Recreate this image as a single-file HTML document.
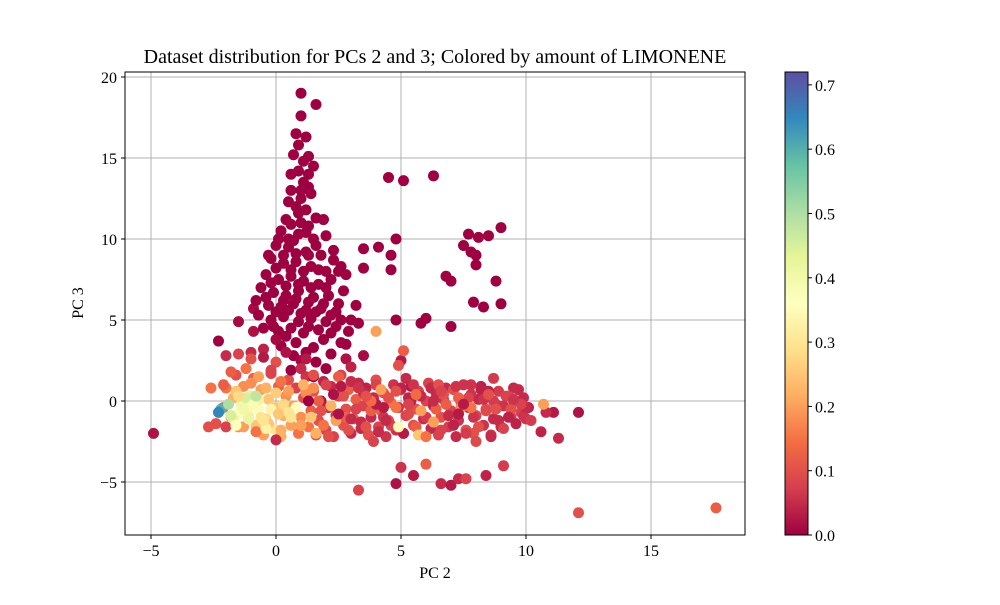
<!DOCTYPE html>
<html><head><meta charset="utf-8"><style>
body{margin:0;background:#fff;width:1000px;height:600px;overflow:hidden}
svg text{font-family:"Liberation Serif",serif;fill:#000}
</style></head><body>
<svg id="chart" width="1000" height="600" xmlns="http://www.w3.org/2000/svg">
<defs><linearGradient id="cmap" x1="0" y1="1" x2="0" y2="0">
<stop offset="0" stop-color="#9e0142"/><stop offset="0.1" stop-color="#d53e4f"/><stop offset="0.2" stop-color="#f46d43"/><stop offset="0.3" stop-color="#fdae61"/><stop offset="0.4" stop-color="#fee08b"/><stop offset="0.5" stop-color="#ffffbf"/><stop offset="0.6" stop-color="#e6f598"/><stop offset="0.7" stop-color="#abdda4"/><stop offset="0.8" stop-color="#66c2a5"/><stop offset="0.9" stop-color="#3288bd"/><stop offset="1" stop-color="#5e4fa2"/>
</linearGradient>
<clipPath id="plotclip"><rect x="125" y="72" width="620" height="463"/></clipPath></defs>
<text x="435" y="63" font-size="20" text-anchor="middle">Dataset distribution for PCs 2 and 3; Colored by amount of LIMONENE</text>
<g id="grid"></g>
<g id="pts" clip-path="url(#plotclip)"></g>
<rect x="125" y="72" width="620" height="463" fill="none" stroke="#000" stroke-width="1"/>
<g id="axes"></g>
<text x="435" y="578" font-size="16" text-anchor="middle">PC 2</text>
<text x="83" y="303" font-size="16" text-anchor="middle" transform="rotate(-90 83 303)">PC 3</text>
<rect x="785" y="72" width="23" height="463" fill="url(#cmap)" stroke="#000" stroke-width="1"/>
<g id="cbar"></g>
</svg>
<script>
const xTicks=[-5,0,5,10,15];
const yTicks=[-5,0,5,10,15,20];
const cTicks=[0.0,0.1,0.2,0.3,0.4,0.5,0.6,0.7];
const spikeX=[0.0,0.5,1.0,1.6,2.2,-0.4,0.3,0.8,1.3,1.9,2.5,-0.2,0.4,0.9,1.4,2.0,0.0,0.6,1.1,1.7,2.3,0.3,0.8,1.3,1.6,0.1,0.7,1.2,0.6,1.3,0.9,0.5,1.0,1.3,0.6,1.1,0.9,-0.1,0.4,1.3,1.9,2.4,-0.9,-0.9,0.2,1.2,0.7,1.6,2.2,2.6,3.3,2.9,-0.5,-1.0,0.6,1.5,2.0];
const spikeY=[5.5,5.6,5.4,5.5,5.3,6.4,6.2,6.3,6.1,6.0,6.0,7.3,7.1,7.2,7.0,7.0,8.2,8.1,8.0,8.1,8.7,9.0,9.1,9.0,9.6,10.0,9.9,10.4,10.9,10.8,11.6,12.3,12.5,13.2,14.0,14.8,15.8,4.6,4.0,4.6,3.8,4.6,5.7,4.3,3.4,3.0,2.8,2.4,2.9,3.6,4.8,4.3,3.2,3.0,1.9,1.5,2.0];
const spikeC=[0,0,0,0,0,0,0,0,0,0,0,0,0,0,0,0,0,0,0,0,0,0,0,0,0,0,0,0,0,0,0,0,0,0,0,0,0,0,0,0,0,0,0.01,0.02,0,0,0,0,0,0,0,0,0.04,0.05,0,0,0];
const bandX=[-1.6,-0.9,-0.2,0.5,1.2,1.9,2.6,3.3,4.0,4.7,5.4,6.1,6.8,7.5,8.2,8.9,9.5,
-2.0,-1.3,-0.6,0.1,0.8,1.5,2.2,2.9,3.6,4.3,5.0,5.7,6.4,7.1,7.8,8.5,9.2,9.9,
-1.7,-1.0,-0.3,0.4,1.1,1.8,2.5,3.2,3.9,4.6,5.3,6.0,6.7,7.4,8.1,8.8,9.5,10.1,
-2.1,-1.4,-0.7,0.0,0.7,1.4,2.1,2.8,3.5,4.2,4.9,5.6,6.3,7.0,7.7,8.4,9.1,9.8,
-1.8,-1.1,-0.4,0.3,1.0,1.7,2.4,3.1,3.8,4.5,5.2,5.9,6.6,7.3,8.0,8.7,9.4,10.0,
-1.5,-0.8,-0.1,0.6,1.3,2.0,2.7,3.4,4.1,4.8,5.5,6.2,6.9,7.6,8.3,9.0,
-0.5,0.2,0.9,1.6,2.3,3.0,3.7,4.4,5.1,6.5,7.2,7.9,8.6];
const bandY=[1.6,1.4,1.7,1.3,1.5,1.2,1.6,1.1,1.3,1.0,0.9,1.1,0.8,1.0,0.9,0.6,0.8,
0.8,0.9,0.7,0.9,0.8,0.6,0.9,0.7,0.8,0.5,0.7,0.6,0.5,0.7,0.4,0.6,0.3,0.2,
0.2,0.3,0.1,0.3,0.2,0.0,0.3,0.1,0.2,-0.1,0.2,0.0,0.1,-0.1,0.1,-0.2,0.0,-0.4,
-0.4,-0.3,-0.5,-0.4,-0.3,-0.6,-0.4,-0.5,-0.3,-0.6,-0.4,-0.5,-0.3,-0.6,-0.4,-0.5,-0.3,-0.7,
-1.0,-0.9,-1.1,-0.9,-1.0,-1.2,-0.9,-1.1,-1.0,-1.2,-0.9,-1.1,-1.0,-1.2,-0.9,-1.1,-1.0,-1.1,
-1.6,-1.5,-1.7,-1.5,-1.6,-1.8,-1.5,-1.7,-1.6,-1.8,-1.5,-1.7,-1.6,-1.8,-1.5,-1.6,
-2.1,-2.2,-2.0,-2.1,-2.2,-2.0,-2.1,-2.2,-2.0,-2.1,-2.2,-2.0,-2.1];
const bandC=[0.1,0.12,0.08,0.1,0.06,0.04,0.08,0.05,0.1,0.06,0.03,0.08,0.05,0.06,0.04,0.07,0.05,
0.15,0.18,0.2,0.12,0.08,0.1,0.05,0.12,0.04,0.1,0.06,0.08,0.05,0.1,0.06,0.04,0.08,0.05,
0.22,0.3,0.25,0.18,0.1,0.02,0.08,0.12,0.05,0.15,0.04,0.08,0.06,0.1,0.05,0.07,0.06,0.04,
0.15,0.4,0.35,0.25,0.2,0.12,0.05,0.1,0.08,0.12,0.06,0.1,0.04,0.08,0.05,0.1,0.06,0.08,
0.2,0.32,0.28,0.22,0.18,0.1,0.06,0.12,0.05,0.1,0.08,0.05,0.1,0.06,0.08,0.05,0.07,0.06,
0.18,0.25,0.3,0.2,0.15,0.08,0.1,0.05,0.08,0.06,0.1,0.05,0.07,0.1,0.06,0.05,
0.2,0.22,0.15,0.1,0.08,0.05,0.1,0.06,0.04,0.08,0.05,0.1,0.06];
const pc2=[1.0,1.6,1.0,0.8,1.2,0.7,1.3,1.5,0.9,1.1,0.6,1.4,0.8,1.2,0.4,1.0,1.6,0.2,0.9,1.5,2.0,0.0,0.5,1.2,1.8,2.3,-0.2,0.3,0.8,1.4,2.0,2.6,-0.4,0.1,0.6,1.1,1.7,2.2,-0.6,-0.1,0.4,0.9,1.5,2.1,2.7,-0.8,-0.3,0.2,0.7,1.2,1.8,2.4,-0.7,-0.2,0.3,0.9,1.4,2.0,2.6,3.0,-0.5,0.1,0.6,1.1,1.7,2.2,-1.5,-2.3,0.0,0.8,1.5,2.8,0.4,1.0,3.2,2.8,2.5,1.9,1.3,1.0,0.5,-0.3,3.5,4.1,3.5,4.5,5.1,6.3,4.8,4.6,4.6,5.8,6.0,7.0,4.8,7.7,8.1,8.5,9.0,7.5,7.8,8.0,8.8,6.8,7.0,7.9,8.3,9.0,8.0,3.5,2.8,5.0,
-2.0,-1.5,-1.0,-0.5,0.0,-1.8,-1.2,-0.7,-0.2,-2.1,-1.6,-1.0,-0.4,0.2,-2.4,-1.5,-1.0,-0.6,-0.2,0.3,-1.3,-0.8,-0.3,0.2,0.6,-1.7,-1.2,-0.7,0.0,0.5,-2.0,-1.5,0.8,1.0,
1.0,1.5,2.0,2.5,3.0,1.2,1.7,2.2,2.7,3.2,1.4,1.9,2.4,2.9,3.4,1.6,2.1,2.6,3.0,1.2,
3.5,4.0,4.5,5.0,5.5,3.8,4.3,4.8,5.3,5.8,3.6,4.1,4.6,5.1,5.6,6.0,3.9,4.9,5.4,4.2,5.7,4.0,5.2,
6.2,6.7,7.2,7.7,8.2,8.7,6.4,6.9,7.4,7.9,8.4,8.9,9.4,9.9,6.6,7.1,7.6,8.1,8.6,9.1,9.6,10.2,6.3,7.3,8.0,6.5,7.8,10.0,9.3,6.0,
1.3,1.8,2.3,2.8,3.3,3.8,4.3,4.8,5.3,5.8,6.3,6.8,7.3,7.8,8.3,8.8,9.3,9.8,1.1,2.5,3.6,4.4,5.6,6.6,7.5,8.5,9.5,0.5,1.5,3.0,
-2.2,-1.9,-2.3,-1.8,-1.3,-0.9,-0.4,-1.1,-0.5,0.1,-1.6,-0.8,
-4.9,3.3,4.8,5.0,5.5,6.0,6.6,7.0,7.3,7.6,8.4,9.1,12.1,17.6,11.3,12.1,11.1,10.8,10.6,10.7,4.0,5.1,4.9,8.7,9.7,-2.6,-2.7,0.0];
const pc3=[19.0,18.3,17.6,16.5,16.3,15.2,15.1,14.5,14.2,13.5,13.0,12.8,12.0,11.8,11.2,11.0,11.3,10.5,10.3,10.0,10.2,9.6,9.5,9.2,9.0,9.3,8.8,8.5,8.6,8.3,8.0,8.3,7.8,7.5,7.7,7.4,7.2,7.5,7.0,6.7,6.5,6.8,6.4,6.5,6.8,6.2,5.9,5.8,6.0,5.6,5.7,5.5,5.3,5.0,5.2,4.9,5.1,4.9,5.0,5.0,4.5,4.3,4.5,4.2,4.4,4.2,4.9,3.7,3.8,3.6,3.3,3.5,3.0,2.5,5.9,7.8,8.0,11.2,14.0,13.0,10.0,9.0,9.4,9.5,8.2,13.8,13.6,13.9,10.0,9.0,8.1,4.8,5.1,4.6,5.0,10.3,10.1,10.2,10.7,9.6,9.2,8.4,7.4,7.7,7.4,6.1,5.8,6.0,9.0,2.8,2.6,2.5,
2.8,2.9,2.6,2.7,2.4,1.8,2.0,1.5,1.9,1.0,0.6,1.1,0.8,1.2,-1.4,-0.8,-0.3,-1.0,-0.5,-0.2,-1.6,-1.9,-1.4,-1.8,-1.0,-1.2,0.2,0.1,0.5,0.6,-1.6,0.3,-0.4,-1.5,
2.0,1.6,1.0,1.5,1.2,0.5,0.0,-0.3,0.3,-0.5,-1.0,-1.5,-1.2,-1.8,-1.3,-2.0,-2.2,0.9,2.1,2.6,
0.5,1.0,0.2,0.8,1.0,-0.6,-1.0,-0.4,-0.8,0.3,-1.6,-1.9,-1.5,-2.0,-1.6,-1.0,-2.5,-1.6,0.0,0.7,-2.1,-0.2,1.4,
0.8,0.4,0.9,0.2,0.7,0.0,-0.5,-0.9,-0.4,-1.0,-0.6,-1.2,-0.5,-0.9,-1.8,-1.5,-2.0,-1.6,-2.2,-1.7,-1.4,-1.2,-1.3,0.2,-2.5,1.0,1.0,-0.4,0.3,-2.2,
0.0,-0.6,0.4,-1.0,0.8,0.0,-0.4,0.6,-0.2,-0.6,0.0,-0.2,-0.8,-0.4,0.1,-0.5,-1.0,-0.2,1.0,-0.8,0.3,-1.2,0.4,0.6,-0.2,0.4,0.1,-0.7,0.8,-1.1,
-0.5,-0.2,-0.7,-0.9,-0.5,-0.2,-1.7,-1.1,-1.2,-0.8,-1.5,0.3,
-2.0,-5.5,-5.1,-4.1,-4.6,-3.9,-5.1,-5.2,-4.8,-4.8,-4.6,-4.0,-6.9,-6.6,-2.3,-0.7,-0.7,-0.7,-1.9,-0.2,4.3,3.1,2.2,1.4,0.7,0.8,-1.6,-2.4];
const limonene=[0,0,0,0,0,0,0,0,0,0,0,0,0,0,0,0,0,0,0,0,0,0,0,0,0,0,0,0,0,0,0,0,0,0,0,0,0,0,0,0,0,0,0,0,0,0,0,0,0,0,0,0,0,0,0,0,0,0,0,0,0,0,0,0,0,0,0.01,0,0.01,0,0,0,0.02,0.01,0,0,0,0,0,0,0,0,0,0,0,0,0,0,0,0,0,0,0,0,0,0,0,0,0,0,0,0,0,0,0,0,0,0,0,0.01,0.02,0.03,
0.05,0.08,0.1,0.03,0.1,0.12,0.15,0.2,0.08,0.12,0.25,0.18,0.22,0.15,0.1,0.35,0.38,0.3,0.33,0.28,0.2,0.15,0.25,0.22,0.3,0.42,0.45,0.32,0.26,0.2,0.08,0.28,0.35,0.2,
0.05,0.1,0.08,0.12,0.05,0.18,0.12,0.22,0.1,0.08,0.25,0.15,0.2,0.1,0.05,0.22,0.1,0.03,0.04,0.03,
0.05,0.08,0.1,0.04,0.06,0.12,0.06,0.15,0.09,0.05,0.1,0.05,0.08,0.03,0.12,0.07,0.08,0.35,0.04,0.2,0.25,0.03,0.05,
0.05,0.1,0.06,0.08,0.04,0.07,0.12,0.05,0.18,0.06,0.09,0.05,0.1,0.06,0.08,0.04,0.07,0.1,0.05,0.08,0.04,0.07,0.2,0.12,0.09,0.1,0.06,0.05,0.08,0.15,
0.0,0.1,0.02,0.12,0.06,0.14,0.03,0.1,0.08,0.2,0.05,0.12,0.03,0.15,0.06,0.1,0.04,0.08,0.22,0.02,0.1,0.05,0.14,0.08,0.03,0.1,0.06,0.3,0.18,0.05,
0.6,0.5,0.65,0.45,0.4,0.38,0.33,0.42,0.3,0.25,0.36,0.48,
0.02,0.08,0.02,0.06,0.03,0.12,0.05,0.03,0.05,0.08,0.04,0.07,0.1,0.12,0.05,0.02,0.03,0.05,0.04,0.2,0.2,0.12,0.1,0.07,0.05,0.15,0.1,0.05];
const NS='http://www.w3.org/2000/svg';
const X0=125,X1=745,Y0=72,Y1=535;
function sx(v){return 276+(v-0)*25;}
function sy(v){return 401-(v-0)*16.2;}
function sc(v){return 535-v/0.72*463;}
const stops=['#9e0142','#d53e4f','#f46d43','#fdae61','#fee08b','#ffffbf','#e6f598','#abdda4','#66c2a5','#3288bd','#5e4fa2'];
function hex(h){return [1,3,5].map(i=>parseInt(h.substr(i,2),16));}
function cmap(v){let t=Math.max(0,Math.min(1,v/0.72))*10;let i=Math.min(9,Math.floor(t));let f=t-i;let a=hex(stops[i]),b=hex(stops[i+1]);return 'rgb('+a.map((q,k)=>Math.round(q+(b[k]-q)*f)).join(',')+')';}
function el(tag,attrs,parent){const e=document.createElementNS(NS,tag);for(const k in attrs)e.setAttribute(k,attrs[k]);parent.appendChild(e);return e;}
const grid=document.getElementById('grid'),axes=document.getElementById('axes'),pts=document.getElementById('pts'),cbar=document.getElementById('cbar');
xTicks.forEach(t=>{const x=sx(t);
 const g=el('line',{x1:x,x2:x,y1:Y0,y2:Y1,stroke:'#b0b0b0','stroke-width':1},grid);
 
 
 el('line',{x1:x,x2:x,y1:Y1,y2:Y1+4,stroke:'#000'},axes);
 const tx=el('text',{x:x,y:Y1+21,'font-size':16,'text-anchor':'middle'},axes);tx.textContent=(t<0?'\u2212'+(-t):t);
 
 });
yTicks.forEach(t=>{const y=sy(t);
 const g=el('line',{x1:X0,x2:X1,y1:y,y2:y,stroke:'#b0b0b0','stroke-width':1},grid);
 
 
 el('line',{x1:X0-4,x2:X0,y1:y,y2:y,stroke:'#000'},axes);
 const tx=el('text',{x:X0-8,y:y+6,'font-size':16,'text-anchor':'end'},axes);tx.textContent=(t<0?'\u2212'+(-t):t);
 
 });
function drawSet(xs,ys,cs){
 for(let i=0;i<xs.length;i++){
  const c=el('circle',{cx:sx(xs[i]),cy:sy(ys[i]),r:5.5,fill:cmap(cs[i])},pts);
  
  }}
drawSet(bandX,bandY,bandC);
drawSet(spikeX,spikeY,spikeC);
drawSet(pc2,pc3,limonene);
cTicks.forEach(t=>{const y=sc(t);
 el('line',{x1:808,x2:812,y1:y,y2:y,stroke:'#000'},cbar);
 const tx=el('text',{x:815,y:y+6,'font-size':16},cbar);tx.textContent=t.toFixed(1);
 
 });
</script>
</body></html>
